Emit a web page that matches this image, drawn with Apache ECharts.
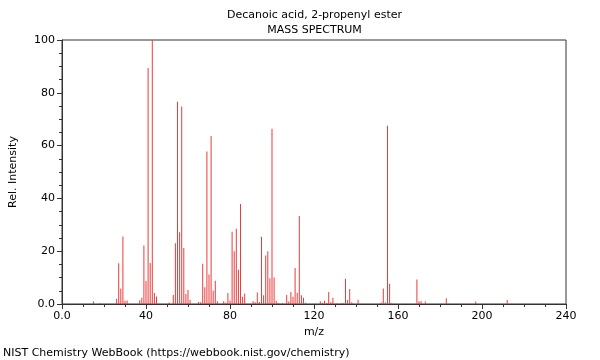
<!DOCTYPE html>
<html><head><meta charset="utf-8">
<script src="https://cdn.jsdelivr.net/npm/echarts@6/dist/echarts.min.js"></script>
<style>html,body{margin:0;padding:0;background:#fff}#c{width:600px;height:360px}</style>
</head><body><div id="c"></div>
<script>
const titleText = "Decanoic acid, 2-propenyl ester";
const subtitleText = "MASS SPECTRUM";
const footerText = "NIST Chemistry WebBook (https://webbook.nist.gov/chemistry)";
const xTickLabels = ["0.0","40","80","120","160","200","240"];
const yTickLabels = ["0.0","20","40","60","80","100"];
const mz = [15,18,26,27,28,29,30,31,37,38,39,40,41,42,43,44,45,51,53,54,55,56,57,58,59,60,61,65,66,67,68,69,70,71,72,73,74,77,78,79,80,81,82,83,84,85,86,87,91,92,93,94,95,96,97,98,99,100,101,102,103,105,107,108,109,110,111,112,113,114,115,116,123,124,125,126,127,128,129,131,133,134,135,136,137,138,141,152,153,154,155,156,157,169,170,171,173,183,197,212];
const intensity = [0.9,0.3,2,15.4,5.9,25.6,1.2,1.3,1.4,2.4,22.2,8.7,89.4,15.5,100,4.2,2.8,0.6,3.4,23,76.6,27.2,74.8,21.2,3.8,5.3,1.5,0.8,0.7,15.2,6.3,57.8,11.2,63.6,5,8.8,1,1,0.5,4.2,1.3,27.4,20,28.5,13,37.9,2.7,4,1,0.7,4.4,0.8,25.5,3.3,18.4,20,9.8,66.4,10,1.2,0.4,0.3,3.4,0.9,4.5,2.7,13.6,4.3,33.3,3.3,2.4,0.5,1,0.5,1.2,0.4,4.5,0.7,2.4,0.3,0.3,0.3,9.6,1.5,5.7,0.7,1.6,0.6,5.9,0.6,67.5,7.7,0.4,9.3,1,1,0.9,2.2,0.9,1.5];
const data = mz.map((m,i)=>[m,intensity[i]]);
const chart = echarts.init(document.getElementById('c'));
const F = 'DejaVu Sans';
const ts = (t,x,y,align)=>({type:'text',x:x,y:y,silent:true,style:{text:t,fontFamily:F,fontSize:11,fill:'#000',align:align,verticalAlign:'middle'}});
chart.setOption({
  animation:false,
  textStyle:{fontFamily:F},
  graphic:[
    ts(titleText,314.5,14.8,'center'),
    ts(subtitleText,314.5,30.5,'center'),
    ts(footerText,3,353,'left')
  ],
  grid:{left:62,right:34,top:40,bottom:56,outerBoundsMode:'none',containLabel:false,show:true,borderColor:'#333',borderWidth:1,backgroundColor:'transparent'},
  xAxis:{type:'value',min:0,max:240,interval:40,name:'m/z',nameLocation:'middle',nameGap:22,
    nameTextStyle:{fontFamily:F,fontSize:11,color:'#000'},
    axisLine:{show:true,lineStyle:{color:'#333'}},
    axisTick:{show:true,length:5,lineStyle:{color:'#333'}},
    minorTick:{show:true,splitNumber:4,length:3,lineStyle:{color:'#333'}},
    splitLine:{show:false},
    axisLabel:{fontFamily:F,fontSize:11,color:'#000',margin:7,formatter:v=>xTickLabels[Math.round(v/40)]}},
  yAxis:{type:'value',min:0,max:100,interval:20,name:'Rel. Intensity',nameLocation:'middle',nameGap:43,
    nameTextStyle:{fontFamily:F,fontSize:11,color:'#000'},
    axisLine:{show:true,lineStyle:{color:'#333'}},
    axisTick:{show:true,length:5,lineStyle:{color:'#333'}},
    minorTick:{show:true,splitNumber:4,length:3,lineStyle:{color:'#333'}},
    splitLine:{show:false},
    axisLabel:{fontFamily:F,fontSize:11,color:'#000',margin:7,formatter:v=>yTickLabels[Math.round(v/20)]}},
  series:[{type:'bar',data:data,barWidth:1,itemStyle:{color:'rgb(235,60,60)'}}]
});
</script></body></html>
